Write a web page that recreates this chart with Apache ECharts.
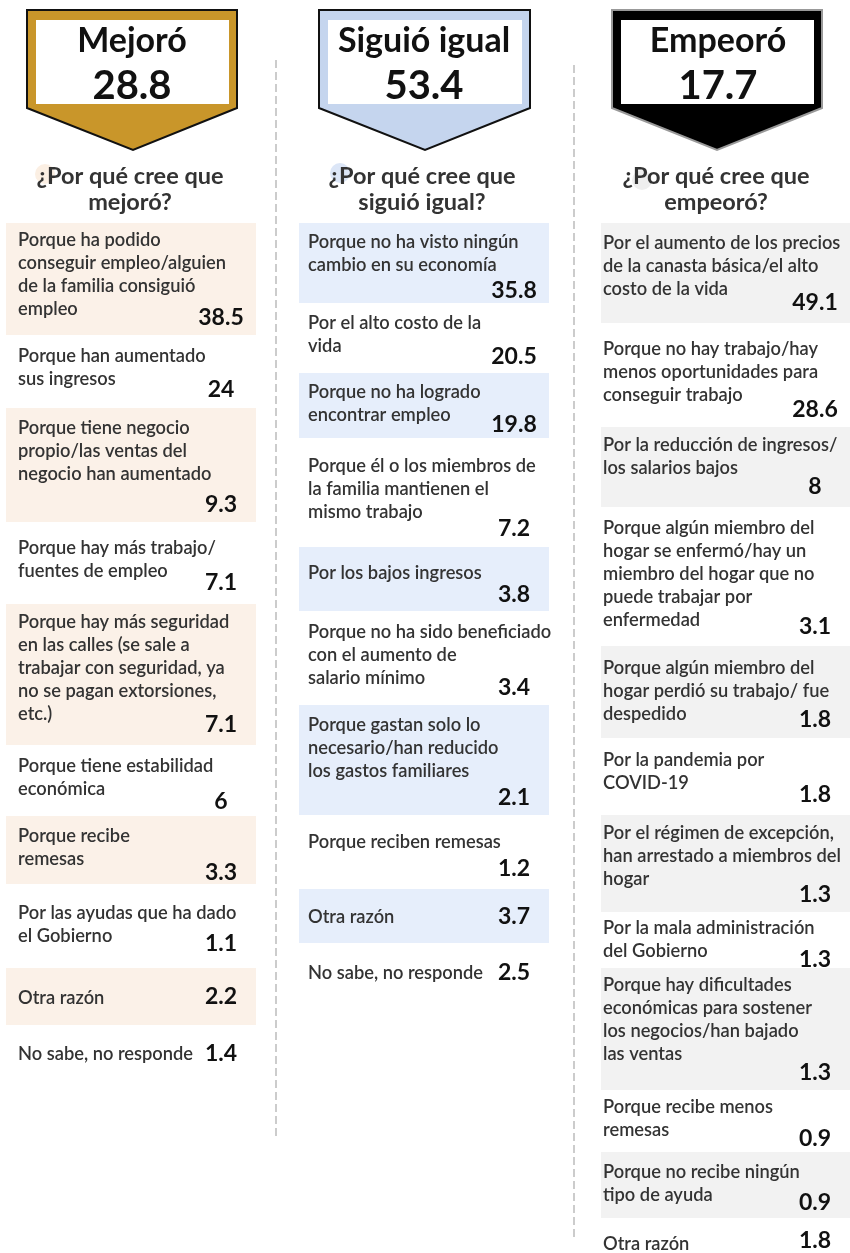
<!DOCTYPE html>
<html>
<head>
<meta charset="utf-8">
<script src="https://cdn.jsdelivr.net/npm/echarts@6/dist/echarts.min.js"></script>
<style>
  html, body { margin: 0; padding: 0; background: #fff; }
  #chart { width: 850px; height: 1253px; }
</style>
</head>
<body>
<div id="chart"></div>
<script>
// datos: encabezados
const headTitles = ['Mejoró', 'Siguió igual', 'Empeoró']
const headTotals = [28.8, 53.4, 17.7]
const questions = [
  '¿Por qué cree que\nmejoró?',
  '¿Por qué cree que\nsiguió igual?',
  '¿Por qué cree que\nempeoró?'
]

// razones y porcentajes por columna
const mejoroReasons = [
  'Porque ha podido\nconseguir empleo/alguien\nde la familia consiguió\nempleo',
  'Porque han aumentado\nsus ingresos',
  'Porque tiene negocio\npropio/las ventas del\nnegocio han aumentado',
  'Porque hay más trabajo/\nfuentes de empleo',
  'Porque hay más seguridad\nen las calles (se sale a\ntrabajar con seguridad, ya\nno se pagan extorsiones,\netc.)',
  'Porque tiene estabilidad\neconómica',
  'Porque recibe\nremesas',
  'Por las ayudas que ha dado\nel Gobierno',
  'Otra razón',
  'No sabe, no responde'
]
const mejoroValues = [38.5, 24, 9.3, 7.1, 7.1, 6, 3.3, 1.1, 2.2, 1.4]

const igualReasons = [
  'Porque no ha visto ningún\ncambio en su economía',
  'Por el alto costo de la\nvida',
  'Porque no ha logrado\nencontrar empleo',
  'Porque él o los miembros de\nla familia mantienen el\nmismo trabajo',
  'Por los bajos ingresos',
  'Porque no ha sido beneficiado\ncon el aumento de\nsalario mínimo',
  'Porque gastan solo lo\nnecesario/han reducido\nlos gastos familiares',
  'Porque reciben remesas',
  'Otra razón',
  'No sabe, no responde'
]
const igualValues = [35.8, 20.5, 19.8, 7.2, 3.8, 3.4, 2.1, 1.2, 3.7, 2.5]

const empeoroReasons = [
  'Por el aumento de los precios\nde la canasta básica/el alto\ncosto de la vida',
  'Porque no hay trabajo/hay\nmenos oportunidades para\nconseguir trabajo',
  'Por la reducción de ingresos/\nlos salarios bajos',
  'Porque algún miembro del\nhogar se enfermó/hay un\nmiembro del hogar que no\npuede trabajar por\nenfermedad',
  'Porque algún miembro del\nhogar perdió su trabajo/ fue\ndespedido',
  'Por la pandemia por\nCOVID-19',
  'Por el régimen de excepción,\nhan arrestado a miembros del\nhogar',
  'Por la mala administración\ndel Gobierno',
  'Porque hay dificultades\neconómicas para sostener\nlos negocios/han bajado\nlas ventas',
  'Porque recibe menos\nremesas',
  'Porque no recibe ningún\ntipo de ayuda',
  'Otra razón'
]
const empeoroValues = [49.1, 28.6, 8, 3.1, 1.8, 1.8, 1.3, 1.3, 1.3, 0.9, 0.9, 1.8]

// layout (px): [top, bottom, primera línea, valor]
const layout1 = [[223,335,240,318],[335,408,356,390],[408,522,428,505],[522,604,548,583],[604,745,622,725],
  [745,816,766,802],[816,884,836,873],[884,968,913,944],[968,1025,998,997],[1025,1085,1054,1054]]
const layout2 = [[223,303,242,291],[303,373,323,357],[373,438,392,425],[438,547,466,529],[547,611,573,595],
  [611,705,632,688],[705,815,725,798],[815,889,842,869],[889,943,917,917],[943,1000,973,973]]
const layout3 = [[223,323,243,303],[323,427,349,410],[427,507,445,487],[507,646,528,627],[646,738,668,720],
  [738,815,760,795],[815,912,833,895],[912,968,928,960],[968,1090,985,1073],[1090,1152,1107,1139],
  [1152,1218,1172,1203],[1218,1253,1244,1241]]

const columns = [
  { reasons: mejoroReasons, values: mejoroValues, rows: layout1, x: 6, w: 250, textX: 18, valX: 221, center: 132,
    shade: '#FBF1E8', arrow: '#C9962A', arrowBorder: '#111', left: 27, right: 237, tip: 133, dot: [45, 174, '#FBEFE3'] },
  { reasons: igualReasons, values: igualValues, rows: layout2, x: 299, w: 250, textX: 308, valX: 514, center: 424,
    shade: '#E6EEFB', arrow: '#C5D5EE', arrowBorder: '#111', left: 319, right: 530, tip: 425, dot: [340, 173, '#DCE6F7'] },
  { reasons: empeoroReasons, values: empeoroValues, rows: layout3, x: 601, w: 249, textX: 603, valX: 815, center: 718,
    shade: '#F2F2F2', arrow: '#000', arrowBorder: '#999', left: 612, right: 822, tip: 717, dot: [642, 180, '#EEEEEE'] }
]

const FONT = 'Lato, "Noto Sans", sans-serif'
const elements = []

// separadores punteados
;[[276, 60, 1140], [574, 65, 1240]].forEach(([x, y1, y2]) => {
  elements.push({
    type: 'line',
    shape: { x1: x, y1: y1, x2: x, y2: y2 },
    style: { stroke: '#CCCCCC', lineWidth: 2, lineDash: [8, 4] }
  })
})

columns.forEach((col, ci) => {
  // flecha del encabezado
  elements.push({
    type: 'polygon',
    shape: { points: [[col.left, 10], [col.right, 10], [col.right, 108], [col.tip, 150], [col.left, 108]] },
    style: { fill: col.arrow, stroke: col.arrowBorder, lineWidth: 2 }
  })
  elements.push({
    type: 'rect',
    shape: { x: col.left + 9, y: 20, width: col.right - col.left - 17, height: 84 },
    style: { fill: '#fff' }
  })
  elements.push({
    type: 'text', x: col.center, y: 41,
    style: { text: headTitles[ci], font: 'bold 34px ' + FONT, fill: '#111', align: 'center', verticalAlign: 'middle' }
  })
  elements.push({
    type: 'text', x: col.center, y: 86,
    style: { text: String(headTotals[ci]), font: 'bold 40px ' + FONT, fill: '#111', align: 'center', verticalAlign: 'middle' }
  })

  // pregunta
  elements.push({
    type: 'circle',
    shape: { cx: col.dot[0], cy: col.dot[1], r: 10 },
    style: { fill: col.dot[2] }
  })
  elements.push({
    type: 'text', x: col.center - 2, y: 176 - 13,
    style: { text: questions[ci], font: 'bold 23.5px ' + FONT, fill: '#333', align: 'center', verticalAlign: 'top', lineHeight: 26 }
  })

  // filas
  col.reasons.forEach((reason, i) => {
    const [top, bottom, lineY, valY] = col.rows[i]
    if (i % 2 === 0) {
      elements.push({
        type: 'rect',
        shape: { x: col.x, y: top, width: col.w, height: bottom - top },
        style: { fill: col.shade }
      })
    }
    elements.push({
      type: 'text', x: col.textX, y: lineY - 11.5,
      style: { text: reason, font: '600 18.3px ' + FONT, fill: '#333', align: 'left', verticalAlign: 'top', lineHeight: 23 }
    })
    elements.push({
      type: 'text', x: col.valX, y: valY,
      style: { text: String(col.values[i]), font: 'bold 23px ' + FONT, fill: '#111', align: 'center', verticalAlign: 'middle' }
    })
  })
})

const chart = echarts.init(document.getElementById('chart'), null, { renderer: 'canvas' })
chart.setOption({
  backgroundColor: '#fff',
  animation: false,
  graphic: { elements: elements }
})
window.addEventListener('resize', () => chart.resize())
</script>
</body>
</html>
